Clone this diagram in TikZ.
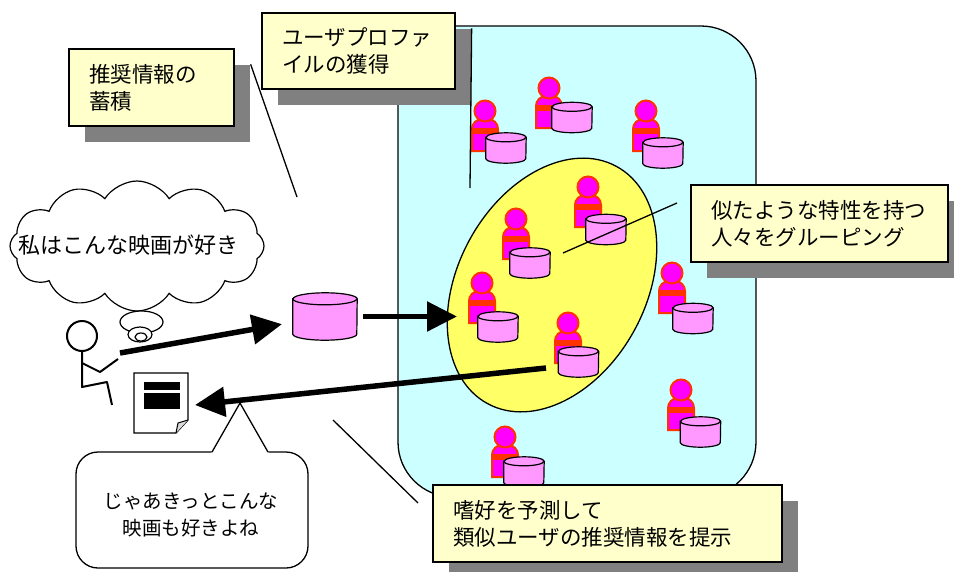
\documentclass[tikz,border=0pt]{standalone}
\usepackage{fontspec}
\setmainfont{Noto Sans CJK JP}
\usetikzlibrary{positioning,arrows.meta,shapes.geometric,shapes.symbols,shadows}
\definecolor{poolcyan}{RGB}{204,255,255}
\definecolor{groupyellow}{RGB}{255,255,102}
\definecolor{notefill}{RGB}{255,255,204}
\definecolor{shadowgray}{RGB}{128,128,128}
\definecolor{dbpink}{RGB}{255,153,255}
\definecolor{usermag}{RGB}{255,0,255}
\definecolor{userred}{RGB}{255,51,0}
\tikzset{
  note/.style   = {rectangle, draw, line width=1.3pt, fill=notefill,
                   align=left, inner xsep=20pt, inner ysep=0pt,
                   font=\fontsize{21.5pt}{27pt}\selectfont,
                   drop shadow={shadow xshift=16pt, shadow yshift=-16pt,
                                fill=shadowgray, opacity=1}},
  dbline/.style = {draw, line width=1.2pt, fill=dbpink},
  bigarr/.style = {-{Triangle[length=30pt,width=29pt]}, line width=5.5pt},
  leader/.style = {line width=1.3pt},
  stick/.style  = {line width=2pt, line join=round},
  user/.style   = {fill=usermag, draw=userred, line width=2pt},
  outline/.style = {draw, line width=1.3pt, fill=white}
}
% name, x, y, half width, half height, rim
\newcommand\dbcan[6]{%
  \node[inner sep=0pt, minimum width=2*#4pt, minimum height=2*#5pt] (#1) at (#2,#3) {};
  \draw[dbline] ([yshift=-#6pt]#1.north west) -- ([yshift=#6pt]#1.south west)
    arc[start angle=180, end angle=360, x radius=#4pt, y radius=#6pt]
    -- ([yshift=-#6pt]#1.north east)
    arc[start angle=0, end angle=180, x radius=#4pt, y radius=#6pt] -- cycle;
  \draw[dbline, fill=none] ([yshift=-#6pt]#1.north west)
    arc[start angle=180, end angle=360, x radius=#4pt, y radius=#6pt];
}
\begin{document}
\begin{tikzpicture}[x=1pt,y=-1pt]
\useasboundingbox (0,0) rectangle (954,571);
\node[draw, line width=1.3pt, fill=poolcyan, rounded corners=55pt,
      minimum width=358pt, minimum height=471pt] (pool) at (577,261.5) {};
\node[ellipse, draw, line width=1.3pt, fill=groupyellow, rotate=61.5,
      minimum width=270pt, minimum height=188pt] (group) at (552,285) {};
% users and their profiles
\foreach \hx/\hy/\cx/\cy [count=\i] in {485/111/506/148, 549/88/572/117.5,
    646/111/663/153, 588/187/606/229.5, 516/219/530/263, 482/283/498/327,
    568/323/578.5/362, 672/273/693/318.5, 681/390/700.5/432, 505/437/524/472}{
  \draw[user] (\hx-13,\hy+40) -- (\hx-13,\hy+18)
    arc[start angle=180, end angle=90, radius=10pt] -- (\hx+3,\hy+8)
    arc[start angle=90, end angle=0, radius=10pt] -- (\hx+13,\hy+40) -- cycle;
  \fill[userred] (\hx-13,\hy+17) rectangle (\hx+13,\hy+23);
  \draw[user] (\hx,\hy) circle[radius=10.5pt];
  \dbcan{db\i}{\cx}{\cy}{20}{15}{4.5}
}
\node[note, text width=125pt, minimum height=77pt] (store) at (151.5,87.5) {推奨情報の\\蓄積};
\node[note, text width=153pt, minimum height=76pt] (profile) at (358.5,51) {ユーザプロファ\\イルの獲得};
\node[note, text width=217pt, minimum height=77pt] (grouping) at (819.5,223.5) {似たような特性を持つ\\人々をグルーピング};
\node[note, text width=309pt, minimum height=77pt] (predict) at (607.5,523.5) {嗜好を予測して\\類似ユーザの推奨情報を提示};
% leader lines
\coordinate (storeTip) at (297,197);
\coordinate (profileTip) at (470,188);
\coordinate (groupTip) at (563,253);
\coordinate (groupEnd) at (677,203);
\coordinate (predictTip) at (333,420);
\coordinate (predictEnd) at (418,503);
\draw[leader] ([shift={(16,16)}]store.north east) -- (storeTip);
\draw[leader] ([shift={(16,16)}]profile.north east) -- (profileTip);
\draw[leader] (groupTip) -- (groupEnd);
\draw[leader] (predictTip) -- (predictEnd);
% thought cloud
\node[cloud, outline, line width=1.2pt, cloud puffs=12, cloud puff arc=115,
      minimum width=254pt, minimum height=130pt] (thought) at (137,246) {};
\node[font=\fontsize{22pt}{26pt}\selectfont] (wish) at (129,245) {私はこんな映画が好き};
\draw[outline, line width=1.2pt] (141.5,322) ellipse [x radius=21.5pt, y radius=11pt];
\draw[outline, line width=1.2pt] (140,334.5) ellipse [x radius=12pt, y radius=7.5pt];
\draw[outline, line width=1.2pt] (141,337) ellipse [x radius=6pt, y radius=4pt];
% person
\draw[stick] (82,336) circle[radius=15pt];
\draw[stick] (82,351) -- (82,387) -- (107,382) -- (112,405);
\draw[stick] (82,363) -- (100,372) -- (118,359);
\coordinate (hand) at (120,353);
% recommendation sheet
\draw[outline] (134,373) -- (188,373) -- (188,420) -- (176,433) -- (134,433) -- cycle;
\draw[line width=1pt, fill=gray!30] (188,420) -- (178,423) -- (176,433);
\fill (144,382) rectangle (180,390);
\fill (144,393) rectangle (180,409);
\coordinate (sheet) at (195,405);
% reply bubble
\draw[outline, rounded corners=22pt] (76,452) rectangle (308,568);
\fill[white] (211,453.6) -- (240,403) -- (269,453.6) -- cycle;
\draw[line width=1.3pt] (212,452) -- (240,403) -- (268,452);
\node[font=\fontsize{19.5pt}{27pt}\selectfont, align=center] (reply) at (191,515) {じゃあきっとこんな\\映画も好きよね};
% database and flows
\dbcan{bigdb}{325}{316.5}{32}{23.5}{6}
\coordinate (groupIn) at (457,316.5);
\coordinate (recStart) at (546,368);
\draw[bigarr, shorten >=11pt] (hand) -- (bigdb);
\draw[bigarr, shorten <=6pt] (bigdb.east) -- (groupIn);
\draw[bigarr] (recStart) -- (sheet);
\end{tikzpicture}
\end{document}
